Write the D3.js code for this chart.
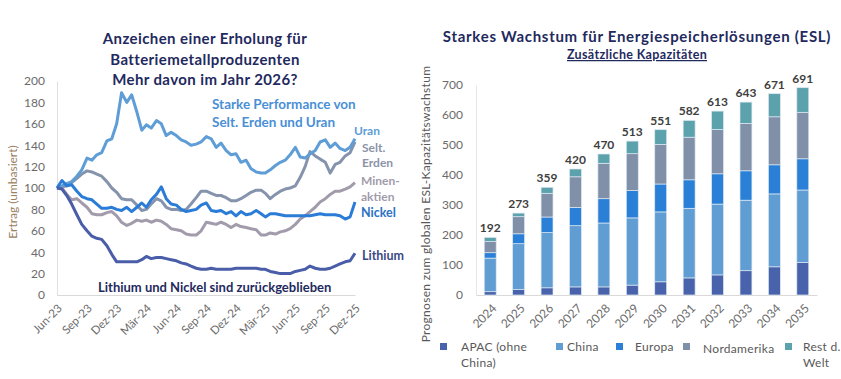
<!DOCTYPE html>
<html>
<head>
<meta charset="utf-8">
<script src="https://cdn.jsdelivr.net/npm/d3@7"></script>
<style>
  body { margin: 0; background: #fff; }
  svg { font-family: Lato, "Open Sans", sans-serif; }
</style>
</head>
<body>
<svg id="chart" width="841" height="379"></svg>
<script>
// left chart: returns, rebased to 100, half-monthly from Jun-23 to Dez-25
var monthTicks = ["Jun-23","Sep-23","Dez-23","Mär-24","Jun-24","Sep-24","Dez-24","Mär-25","Jun-25","Sep-25","Dez-25"];

var uran = [100,102,104,106,111,117,128,126,131,133,144,146,160,189,180,187,171,154,159,156,163,160,149,152,149,145,143,140,141,143,148,146,138,142,135,131,132,124,126,118,115,114,114,117,121,124,126,131,138,129,128,132,135,143,145,138,142,137,135,138,146];
var seltErden = [100,101,102,105,109,113,116,115,113,111,106,100,96,90,89,89,84,79,80,85,90,88,82,80,80,79,80,85,91,97,97,95,93,93,91,88,88,90,93,96,98,98,95,90,94,97,99,100,102,110,120,134,130,127,124,114,122,124,130,133,143];
var nickel = [100,107,102,103,97,92,90,89,85,81,81,82,80,79,82,78,82,86,82,89,94,101,90,85,84,80,78,79,80,84,86,79,78,79,76,78,74,78,75,76,79,76,73,76,76,75,74,74,74,74,74,74,75,76,75,75,75,74,71,73,87];
var minenaktien = [101,100,94,89,90,86,82,76,75,75,77,78,74,68,65,67,70,69,70,68,70,69,66,62,61,60,57,56,56,60,68,67,66,68,66,63,66,64,63,62,61,56,56,58,57,59,60,62,66,71,74,78,82,87,90,94,97,97,99,101,105];
var lithium = [100,99,93,85,75,66,60,55,53,52,46,38,31,31,31,31,31,33,36,34,35,35,34,33,32,30,29,27,25,24,24,25,24,24,24,24,25,25,25,25,25,24,24,22,21,20,20,20,22,23,24,27,25,24,24,25,27,29,31,32,39];

// right chart: additional ESL capacity by region
var years = ["2024","2025","2026","2027","2028","2029","2030","2031","2032","2033","2034","2035"];
var apac = [11,18,24,27,27,33,44,57,67,81,94,108];
var china = [112,153,184,204,213,224,233,232,236,235,243,242];
var europa = [18,33,52,61,81,91,93,95,101,98,97,104];
var nordamerika = [37,57,79,102,118,123,132,142,148,158,160,155];
var restWelt = [14,12,20,26,31,42,49,56,61,71,77,82];
var totals = [192,273,359,420,470,513,551,582,613,643,671,691];

var svg = d3.select("#chart");
var navy = "#1f2a5e";

// ---------- left chart ----------
var dates = uran.map(function(d, i) {
    return new Date(2023, 5 + Math.floor(i / 2), i % 2 ? 16 : 1);
});
var x = d3.scaleTime().domain([dates[0], dates[dates.length - 1]]).range([57, 355]);
var y = d3.scaleLinear().domain([0, 200]).range([295, 81]);

var title1 = ["Anzeichen einer Erholung für", "Batteriemetallproduzenten", "Mehr davon im Jahr 2026?"];
svg.append("g").selectAll("text").data(title1).enter().append("text")
    .attr("x", 205).attr("y", function(d, i) { return 44 + i * 20.5; })
    .attr("text-anchor", "middle")
    .attr("font-size", 15).attr("font-weight", 700).attr("fill", navy)
    .attr("letter-spacing", 0.4)
    .text(function(d) { return d; });

var yAxisL = svg.append("g").attr("transform", "translate(57,0)")
    .call(d3.axisLeft(y).tickValues(d3.range(0, 201, 20)).tickSize(0).tickPadding(12));
yAxisL.select(".domain").attr("stroke", "#e0e0e0");
yAxisL.selectAll("text").attr("font-size", 12).attr("fill", "#6b6b6b").attr("font-family", "Lato, sans-serif");

svg.append("text")
    .attr("transform", "translate(17,192) rotate(-90)")
    .attr("text-anchor", "middle").attr("font-size", 12).attr("fill", "#9a7f63")
    .text("Ertrag (umbasiert)");

var tickDates = monthTicks.map(function(d, i) { return new Date(2023, 5 + i * 3, 1); });
var xAxisL = svg.append("g").attr("transform", "translate(0,295)")
    .call(d3.axisBottom(x).tickValues(tickDates).tickSize(0).tickFormat(function(d, i) { return monthTicks[i]; }));
xAxisL.select(".domain").attr("stroke", "#d9d9d9");
xAxisL.selectAll("text")
    .attr("font-size", 11.5).attr("fill", "#6b6b6b").attr("font-family", "Lato, sans-serif")
    .attr("text-anchor", "end").attr("dy", 0)
    .attr("transform", "translate(3,12) rotate(-45)");

var series = [
    { name: "Minenaktien", values: minenaktien, color: "#a29bab" },
    { name: "Selt. Erden", values: seltErden, color: "#8593ac" },
    { name: "Uran", values: uran, color: "#5e9dd6" },
    { name: "Nickel", values: nickel, color: "#2a7cd6" },
    { name: "Lithium", values: lithium, color: "#4a5da8" }
];
var line = d3.line()
    .x(function(d, i) { return x(dates[i]); })
    .y(function(d) { return y(d); });
svg.append("g").selectAll("path").data(series).enter().append("path")
    .attr("d", function(d) { return line(d.values); })
    .attr("fill", "none").attr("stroke", function(d) { return d.color; })
    .attr("stroke-width", 3).attr("stroke-linejoin", "round");

// annotations
var notes = [
    { t: "Starke Performance von", x: 212, y: 109, c: "#4a8fd6", s: 13.5 },
    { t: "Selt. Erden und Uran", x: 212, y: 127, c: "#4a8fd6", s: 13.5 },
    { t: "Uran", x: 354, y: 135, c: "#5e9dd6", s: 12 },
    { t: "Selt.", x: 362, y: 152, c: "#8a93a8", s: 12 },
    { t: "Erden", x: 362, y: 167, c: "#8a93a8", s: 12 },
    { t: "Minen-", x: 361, y: 185, c: "#a29bab", s: 12 },
    { t: "aktien", x: 361, y: 201, c: "#a29bab", s: 12 },
    { t: "Nickel", x: 361, y: 217, c: "#2a72c4", s: 12.5 },
    { t: "Lithium", x: 362, y: 260, c: "#3a4a86", s: 12.5 },
    { t: "Lithium und Nickel sind zurückgeblieben", x: 98, y: 292, c: navy, s: 13 }
];
svg.append("g").selectAll("text").data(notes).enter().append("text")
    .attr("x", function(d) { return d.x; }).attr("y", function(d) { return d.y; })
    .attr("font-size", function(d) { return d.s; }).attr("font-weight", 700)
    .attr("fill", function(d) { return d.c; })
    .text(function(d) { return d.t; });

// ---------- right chart ----------
svg.append("text").attr("x", 637).attr("y", 42).attr("text-anchor", "middle")
    .attr("font-size", 15).attr("font-weight", 700).attr("fill", navy)
    .attr("letter-spacing", 0.7)
    .text("Starkes Wachstum für Energiespeicherlösungen (ESL)");
svg.append("text").attr("x", 637).attr("y", 59).attr("text-anchor", "middle")
    .attr("font-size", 12.5).attr("font-weight", 700).attr("fill", navy)
    .attr("letter-spacing", 0.35)
    .attr("text-decoration", "underline")
    .text("Zusätzliche Kapazitäten");

var xb = d3.scaleBand().domain(years).range([476, 817]).paddingInner(0.58).paddingOuter(0.29);
var yb = d3.scaleLinear().domain([0, 700]).range([295, 85]);

var yAxisR = svg.append("g").attr("transform", "translate(476,0)")
    .call(d3.axisLeft(yb).tickValues(d3.range(0, 701, 100)).tickSize(0).tickPadding(13));
yAxisR.select(".domain").attr("stroke", "#e6e6e6");
yAxisR.selectAll("text").attr("font-size", 12).attr("fill", "#6b6b6b").attr("font-family", "Lato, sans-serif");

svg.append("text")
    .attr("transform", "translate(430,204) rotate(-90)")
    .attr("text-anchor", "middle").attr("font-size", 12).attr("fill", "#595959")
    .attr("letter-spacing", 0.3)
    .text("Prognosen zum globalen ESL-Kapazitätswachstum");

var xAxisR = svg.append("g").attr("transform", "translate(0,295)")
    .call(d3.axisBottom(xb).tickSize(0));
xAxisR.select(".domain").attr("stroke", "#d9d9d9");
xAxisR.selectAll("text")
    .attr("font-size", 12).attr("fill", "#6b6b6b").attr("font-family", "Lato, sans-serif")
    .attr("text-anchor", "end").attr("dy", 0)
    .attr("transform", "translate(5,12) rotate(-45)");

var regions = [
    { name: "APAC (ohne China)", values: apac, color: "#4863ab" },
    { name: "China", values: china, color: "#5f9dd2" },
    { name: "Europa", values: europa, color: "#2a80d7" },
    { name: "Nordamerika", values: nordamerika, color: "#8090a8" },
    { name: "Rest d. Welt", values: restWelt, color: "#5ba2ad" }
];
var table = years.map(function(yr, i) {
    var row = { year: yr };
    regions.forEach(function(r) { row[r.name] = r.values[i]; });
    return row;
});
var stacked = d3.stack().keys(regions.map(function(r) { return r.name; }))(table);

svg.append("g").selectAll("g").data(stacked).enter().append("g")
    .attr("fill", function(d, i) { return regions[i].color; })
    .selectAll("rect").data(function(d) { return d; }).enter().append("rect")
    .attr("x", function(d) { return xb(d.data.year); })
    .attr("width", xb.bandwidth())
    .attr("y", function(d) { return yb(d[1]); })
    .attr("height", function(d) { return yb(d[0]) - yb(d[1]); })
    .attr("stroke", "#dfe8f2").attr("stroke-width", 0.7);

svg.append("g").selectAll("text").data(totals).enter().append("text")
    .attr("x", function(d, i) { return xb(years[i]) + xb.bandwidth() / 2; })
    .attr("y", function(d) { return yb(d) - 5; })
    .attr("text-anchor", "middle").attr("font-size", 12).attr("font-weight", 700)
    .attr("fill", "#404040")
    .text(function(d) { return d; });

// legend
var legend = [
    { lines: ["APAC (ohne", "China)"], sx: 440, tx: 461, ty: 351 },
    { lines: ["China"], sx: 556, tx: 567, ty: 351 },
    { lines: ["Europa"], sx: 616, tx: 635, ty: 351 },
    { lines: ["Nordamerika"], sx: 683, tx: 703, ty: 353 },
    { lines: ["Rest d.", "Welt"], sx: 785, tx: 803, ty: 351 }
];
var lg = svg.append("g").selectAll("g").data(legend).enter().append("g");
lg.append("rect")
    .attr("x", function(d) { return d.sx; }).attr("y", 343)
    .attr("width", 7).attr("height", 7)
    .attr("fill", function(d, i) { return regions[i].color; });
lg.each(function(d) {
    d3.select(this).selectAll("text").data(d.lines).enter().append("text")
        .attr("x", d.tx).attr("y", function(t, j) { return d.ty + j * 16; })
        .attr("font-size", 12).attr("fill", "#595959").attr("letter-spacing", 0.3)
        .text(function(t) { return t; });
});
</script>
</body>
</html>
